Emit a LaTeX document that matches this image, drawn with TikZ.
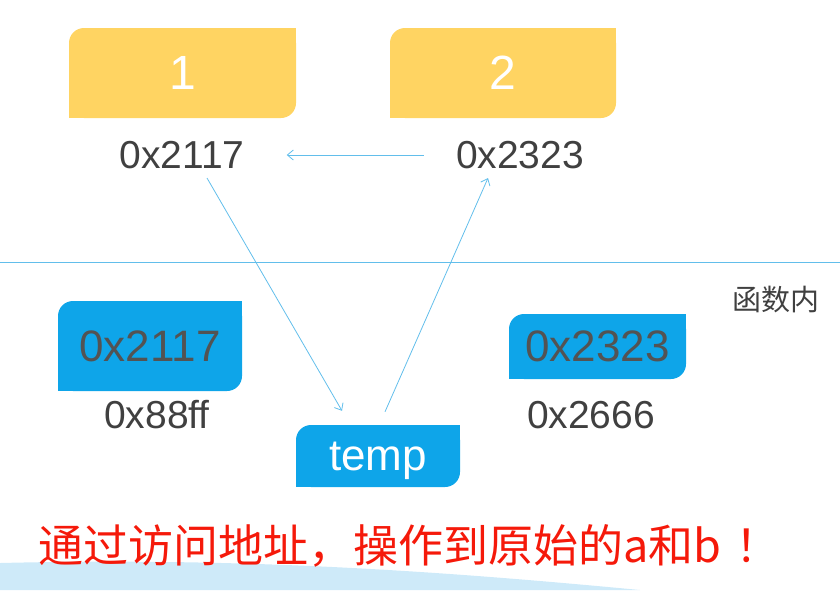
\documentclass[tikz,border=0pt]{standalone}
\usepackage{fontspec}
\setmainfont{Liberation Sans}
\newfontfamily\cjk{Noto Sans CJK SC}
\usetikzlibrary{arrows.meta}
\definecolor{cellyellow}{RGB}{255,212,98}
\definecolor{cellblue}{RGB}{14,165,233}
\definecolor{linkblue}{RGB}{98,190,235}
\definecolor{addrgray}{RGB}{64,64,64}
\definecolor{bandblue}{RGB}{206,234,249}
\definecolor{notered}{RGB}{245,25,10}
\tikzset{cell/.style={inner sep=0pt, path picture={
  \fill[#1, rounded corners=15pt] (path picture bounding box.south west) rectangle (path picture bounding box.north east);
  \fill[#1] (path picture bounding box.north east) rectangle ([xshift=-20pt,yshift=-20pt]path picture bounding box.north east);
  \fill[#1] (path picture bounding box.south west) rectangle ([xshift=20pt,yshift=20pt]path picture bounding box.south west);
  }},
	 addr/.style={inner sep=0pt, text=addrgray, font=\fontsize{39}{39}\selectfont},
	 link/.style={draw=linkblue, line width=0.8pt, -{Straight Barb[length=6pt,width=10pt]}}
	 }

\begin{document}
\begin{tikzpicture}[x=1pt,y=-1pt]
	\useasboundingbox (0,0) rectangle (840,590);
	% background band and separator
	\fill[bandblue] (0,563) .. controls (250,557) and (450,572) .. (640,590) -- (0,590) -- cycle;
	\draw[linkblue, line width=1pt] (0,262) -- (840,262);
	% values of a and b
	\node[cell=cellyellow, minimum width=227pt, minimum height=90pt, text=white, font=\fontsize{48}{48}\selectfont] (vala) at (182.5,73) {1};
	\node[cell=cellyellow, minimum width=226pt, minimum height=90pt, text=white, font=\fontsize{48}{48}\selectfont] (valb) at (503,73) {2};
	\node[addr] (adra) at (182,155) {0x2117};
	\node[addr] (adrb) at (520,155) {0x2323};
	% pointers inside the function
	\node[cell=cellblue, minimum width=184pt, minimum height=90pt, text=addrgray!90, font=\fontsize{44}{44}\selectfont] (ptra) at (150,346) {0x2117};
	\node[cell=cellblue, minimum width=177pt, minimum height=65pt, text=addrgray!90, font=\fontsize{44}{44}\selectfont] (ptrb) at (597.5,346.5) {0x2323};
	\node[addr] (adrpa) at (157,415) {0x88ff};
	\node[addr] (adrpb) at (591,415) {0x2666};
	\node[cell=cellblue, minimum width=164pt, minimum height=62pt, text depth=0pt, text=white, font=\fontsize{44}{44}\selectfont] (temp) at (378,456) {temp};
	\node[text=addrgray, font=\cjk\fontsize{29}{29}\selectfont] (scope) at (776,300) {函数内};
	\draw[link] ([xshift=-32pt]adrb.west) to ([xshift=42pt]adra.east);
	\draw[link] ([xshift=25pt,yshift=-9pt]adra.south) to ([xshift=-36pt,yshift=14pt]temp.north);
	\draw[link] ([xshift=7pt,yshift=13pt]temp.north) to ([xshift=-32pt,yshift=-9pt]adrb.south);
	\node[anchor=west, inner sep=0pt, text=notered, font=\cjk\fontsize{45}{45}\selectfont] (note) at (38,546) {通过访问地址，操作到原始的a和b\hspace{14pt}！};
\end{tikzpicture}
\end{document}
